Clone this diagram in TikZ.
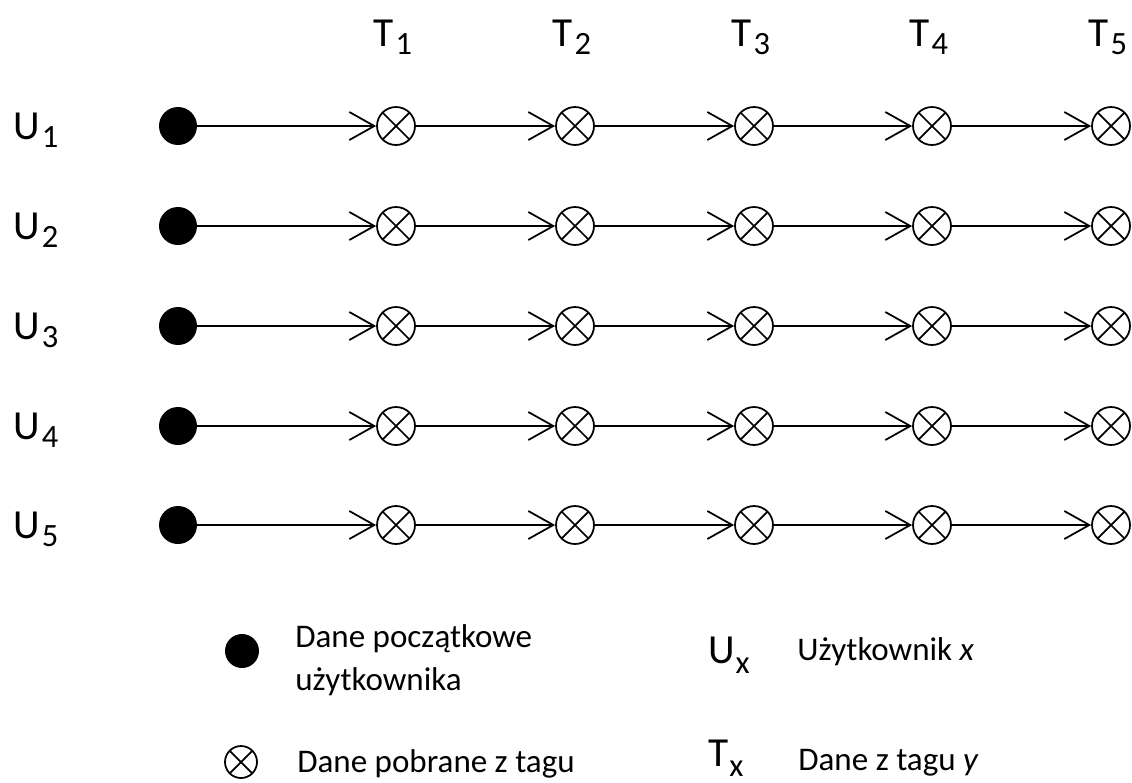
\documentclass[tikz,border=0pt]{standalone}
\usepackage{fontspec}
\setmainfont{Carlito}
\usetikzlibrary{arrows.meta}
\newcommand\lsub[2]{{\fontsize{23.5}{26}\selectfont #1\kern1.2pt\raisebox{-5pt}{\fontsize{18.5}{20}\selectfont #2}}}
\newcommand\lsubb[2]{{\fontsize{23.5}{26}\selectfont #1\kern0.5pt\raisebox{-6pt}{\fontsize{18.5}{20}\selectfont #2}}}
\begin{document}
\begin{tikzpicture}[x=0.02cm,y=-0.02cm,
  startdot/.style={circle,fill=black,inner sep=0pt,minimum size=0.76cm},
  tagnode/.style={circle,draw=black,line width=1pt,inner sep=0pt,minimum size=0.76cm,
    path picture={\draw[line width=1pt] (path picture bounding box.north west) -- (path picture bounding box.south east)
      (path picture bounding box.north east) -- (path picture bounding box.south west);}},
  flow/.style={line width=1pt,-{Straight Barb[length=0.5cm,width=0.56cm,line width=1pt]}},
  lab/.style={anchor=base west,inner sep=0pt},
  legtext/.style={anchor=base west,inner sep=0pt,font=\fontsize{18.8}{24}\selectfont}
]
\useasboundingbox (0,0) rectangle (1132,782);
\fill[white] (0,0) rectangle (1132,782);

\foreach \c/\x in {1/396,2/575,3/754,4/932,5/1111} {
  \node[lab] (t\c) at (\x-23,46) {\lsub{T}{\c}};
}
\foreach \r/\y in {1/126,2/226,3/326,4/426,5/525} {
  \node[startdot] (d\r) at (178,\y) {};
  \node[lab] (u\r) at (13,\y+13) {\lsub{U}{\r}};
  \foreach \c/\x in {1/396,2/575,3/754,4/932,5/1111} {
    \node[tagnode] (o\r\c) at (\x,\y) {};
  }
}
\foreach \r in {1,...,5} {
  \draw[flow] (d\r) -- (o\r1);
  \foreach \c [evaluate=\c as \p using int(\c-1)] in {2,...,5} {
    \draw[flow] (o\r\p) -- (o\r\c);
  }
}

% legend
\node[startdot,minimum size=0.68cm] (legdot) at (242,651) {};
\node[legtext] (legdota) at (295,647) {Dane początkowe};
\node[legtext] (legdotb) at (295,690) {użytkownika};
\node[lab] (legu) at (708,663) {\lsubb{U}{x}};
\node[legtext] (legutext) at (797,660) {Użytkownik \textit{x}};
\node[tagnode,minimum size=0.64cm] (legtag) at (241,762) {};
\node[legtext] (legtagtext) at (297,772) {Dane pobrane z tagu};
\node[lab] (legt) at (708,766) {\lsubb{T}{x}};
\node[legtext] (legttext) at (798,770) {Dane z tagu \textit{y}};
\end{tikzpicture}
\end{document}
